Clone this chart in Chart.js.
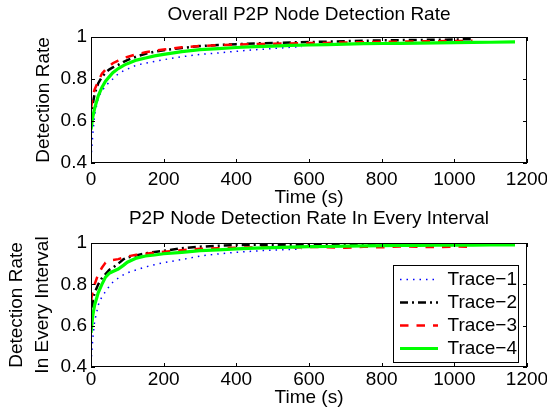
<!DOCTYPE html>
<html>
<head>
<meta charset="utf-8">
<script src="https://cdn.jsdelivr.net/npm/chart.js@4.4.1/dist/chart.umd.min.js"></script>
<style>
  html, body { margin: 0; padding: 0; background: #fff; }
  #wrap { position: relative; width: 547px; height: 413px; overflow: hidden; }
  canvas { position: absolute; left: 0; }
  #topChart { top: 0; }
  #bottomChart { top: 200px; }
</style>
</head>
<body>
<div id="wrap">
  <canvas id="topChart" width="547" height="213"></canvas>
  <canvas id="bottomChart" width="547" height="213"></canvas>
</div>
<script>
// sample times (s) - trace 1 stops early, trace 4 runs longest
var timesShort = [0, 5, 10, 20, 30, 40, 50, 60, 75, 90, 100, 125, 150, 175, 200, 250, 300, 350, 400, 450, 500, 550, 580];
var timesMid = [0, 5, 10, 20, 30, 40, 50, 60, 75, 90, 100, 125, 150, 175, 200, 250, 300, 350, 400, 450, 500, 550, 600, 650, 700, 750, 800, 850, 900, 950, 1000, 1050];
var timesLong = [0, 5, 10, 20, 30, 40, 50, 60, 75, 90, 100, 125, 150, 175, 200, 250, 300, 350, 400, 450, 500, 550, 600, 650, 700, 750, 800, 850, 900, 950, 1000, 1050, 1100, 1167];

var traceLabels = ['Trace\u22121', 'Trace\u22122', 'Trace\u22123', 'Trace\u22124'];

// overall detection rate
var overall1 = [0.42, 0.54, 0.63, 0.71, 0.745, 0.765, 0.785, 0.80, 0.825, 0.84, 0.847, 0.866, 0.875, 0.884, 0.892, 0.906, 0.917, 0.924, 0.932, 0.939, 0.945, 0.951, 0.954];
var overall2 = [0.60, 0.68, 0.73, 0.78, 0.81, 0.83, 0.845, 0.855, 0.867, 0.882, 0.89, 0.907, 0.92, 0.93, 0.937, 0.948, 0.957, 0.962, 0.966, 0.969, 0.972, 0.974, 0.976, 0.978, 0.98, 0.982, 0.984, 0.985, 0.986, 0.987, 0.988, 0.99];
var overall3 = [0.66, 0.72, 0.75, 0.79, 0.825, 0.845, 0.86, 0.875, 0.888, 0.90, 0.905, 0.918, 0.927, 0.935, 0.94, 0.951, 0.957, 0.961, 0.964, 0.966, 0.968, 0.969, 0.971, 0.972, 0.974, 0.975, 0.977, 0.978, 0.979, 0.98, 0.981, 0.982];
var overall4 = [0.56, 0.62, 0.66, 0.72, 0.76, 0.79, 0.81, 0.83, 0.85, 0.865, 0.873, 0.89, 0.90, 0.91, 0.917, 0.93, 0.94, 0.945, 0.95, 0.954, 0.957, 0.96, 0.962, 0.964, 0.966, 0.968, 0.969, 0.97, 0.971, 0.972, 0.973, 0.974, 0.975, 0.977];

// detection rate in every interval
var interval1 = [0.42, 0.54, 0.62, 0.70, 0.74, 0.765, 0.79, 0.81, 0.83, 0.847, 0.856, 0.87, 0.884, 0.895, 0.905, 0.92, 0.937, 0.947, 0.955, 0.961, 0.966, 0.969, 0.97];
var interval2 = [0.60, 0.72, 0.76, 0.80, 0.83, 0.85, 0.87, 0.88, 0.90, 0.922, 0.93, 0.94, 0.95, 0.957, 0.962, 0.975, 0.982, 0.987, 0.99, 0.991, 0.992, 0.991, 0.993, 0.992, 0.994, 0.993, 0.995, 0.994, 0.995, 0.996, 0.995, 0.996];
var interval3 = [0.72, 0.77, 0.80, 0.85, 0.88, 0.905, 0.915, 0.918, 0.922, 0.93, 0.935, 0.943, 0.948, 0.953, 0.958, 0.965, 0.972, 0.975, 0.977, 0.979, 0.98, 0.978, 0.981, 0.98, 0.977, 0.982, 0.979, 0.983, 0.982, 0.98, 0.983, 0.982];
var interval4 = [0.565, 0.65, 0.70, 0.76, 0.80, 0.835, 0.853, 0.862, 0.874, 0.893, 0.907, 0.927, 0.937, 0.942, 0.948, 0.955, 0.963, 0.967, 0.972, 0.975, 0.978, 0.98, 0.982, 0.983, 0.985, 0.986, 0.987, 0.988, 0.988, 0.989, 0.99, 0.99, 0.991, 0.991];

var xTicks = [0, 200, 400, 600, 800, 1000, 1200];
var yTicks = [0.4, 0.6, 0.8, 1];

Chart.defaults.font.family = "'Liberation Sans', Arial, sans-serif";
Chart.defaults.font.size = 19;
Chart.defaults.color = '#000';

function points(xs, ys) {
    return xs.map(function (x, i) { return {x: x, y: ys[i]}; });
}

// matlab style box with inward ticks on every side
var boxTicks = {
    id: 'boxTicks',
    afterDatasetsDraw: function (chart) {
        var ctx = chart.ctx, a = chart.chartArea;
        var xs = chart.scales.x, ys = chart.scales.y;
        ctx.save();
        ctx.strokeStyle = '#000';
        ctx.lineWidth = 1;
        ctx.beginPath();
        xs.ticks.forEach(function (t) {
            var px = Math.round(xs.getPixelForValue(t.value)) + 0.5;
            ctx.moveTo(px, a.bottom); ctx.lineTo(px, a.bottom - 4);
            ctx.moveTo(px, a.top); ctx.lineTo(px, a.top + 4);
        });
        ys.ticks.forEach(function (t) {
            var py = Math.round(ys.getPixelForValue(t.value)) + 0.5;
            ctx.moveTo(a.left, py); ctx.lineTo(a.left + 4, py);
            ctx.moveTo(a.right, py); ctx.lineTo(a.right - 4, py);
        });
        ctx.stroke();
        ctx.strokeRect(Math.round(a.left) + 0.5, Math.round(a.top) + 0.5,
            Math.round(a.width) - 1, Math.round(a.height) - 1);
        ctx.restore();
    }
};

// put the legend in the upper right of the plot, with a frame round it
var legendSpot = {
    id: 'legendSpot',
    afterLayout: function (chart) {
        var lg = chart.legend, a = chart.chartArea;
        if (!lg || !lg.options.display) return;
        lg.left = a.right - 131;
        lg.top = a.top + 23;
        lg.right = lg.left + lg.width;
        lg.bottom = lg.top + a.height;
    },
    afterDraw: function (chart) {
        var lg = chart.legend;
        if (!lg || !lg.options.display) return;
        var ctx = chart.ctx;
        ctx.save();
        ctx.strokeStyle = '#000';
        ctx.lineWidth = 1;
        ctx.strokeRect(Math.round(lg.left - 3) + 0.5, Math.round(lg.top - 1.5) + 0.5, 125, 97);
        ctx.restore();
    }
};

// legend entries with the dataset's own dash and width
function lineLabels(chart) {
    var items = Chart.defaults.plugins.legend.labels.generateLabels(chart);
    items.forEach(function (it) {
        var ds = chart.data.datasets[it.datasetIndex];
        it.lineDash = ds.borderDash || [];
        it.lineWidth = ds.borderWidth;
        it.strokeStyle = ds.borderColor;
        it.fillStyle = ds.borderColor;
    });
    return items;
}

function makeChart(id, cfg) {
    var datasets = [
        {label: traceLabels[0], data: points(timesShort, cfg.series[0]), borderColor: '#0000ff',
            borderWidth: 1.5, borderDash: [1.5, 5], order: 4},
        {label: traceLabels[1], data: points(timesMid, cfg.series[1]), borderColor: '#000000',
            borderWidth: 2.5, borderDash: [8, 4, 2, 4], order: 3},
        {label: traceLabels[2], data: points(timesMid, cfg.series[2]), borderColor: '#ff0000',
            borderWidth: 2.5, borderDash: [8.5, 8], order: 2},
        {label: traceLabels[3], data: points(timesLong, cfg.series[3]), borderColor: '#00ff00',
            borderWidth: 3.2, order: 1}
    ];
    datasets.forEach(function (d) {
        d.pointRadius = 0;
        d.tension = 0;
        d.fill = false;
        d.backgroundColor = d.borderColor;
    });

    return new Chart(document.getElementById(id).getContext('2d'), {
        type: 'line',
        data: {datasets: datasets},
        options: {
            responsive: false,
            animation: false,
            devicePixelRatio: 1,
            layout: {padding: {left: 0, right: 20, top: 0, bottom: 0}},
            plugins: {
                title: {
                    display: true,
                    fullSize: false,
                    text: cfg.title,
                    font: {size: 19, weight: 'normal'},
                    color: '#000',
                    padding: cfg.titlePad
                },
                legend: {
                    display: cfg.legend,
                    position: 'chartArea',
                    align: 'start',
                    labels: {
                        usePointStyle: true,
                        pointStyle: 'line',
                        pointStyleWidth: 38,
                        padding: 4,
                        color: '#000',
                        font: {size: 19},
                        generateLabels: lineLabels,
                        sort: function (a, b) { return a.datasetIndex - b.datasetIndex; }
                    }
                },
                tooltip: {enabled: false}
            },
            scales: {
                x: {
                    type: 'linear',
                    min: 0,
                    max: 1200,
                    afterBuildTicks: function (s) { s.ticks = xTicks.map(function (v) { return {value: v}; }); },
                    afterFit: function (s) { s.height = cfg.xHeight; s.paddingLeft = 0; s.paddingRight = 0; },
                    grid: {display: false, drawTicks: false},
                    border: {display: false},
                    ticks: {autoSkip: false, maxRotation: 0, padding: cfg.xTickPad, color: '#000',
                        callback: function (v) { return String(v); }},
                    title: {display: true, text: 'Time (s)', color: '#000', padding: {top: 0, bottom: 4}}
                },
                y: {
                    type: 'linear',
                    min: 0.4,
                    max: 1,
                    afterBuildTicks: function (s) { s.ticks = yTicks.map(function (v) { return {value: v}; }); },
                    afterFit: function (s) { s.width = 91; s.paddingTop = 0; s.paddingBottom = 0; },
                    grid: {display: false, drawTicks: false},
                    border: {display: false},
                    ticks: {padding: 4, color: '#000', callback: function (v) { return String(v); }},
                    title: {
                        display: true,
                        text: cfg.yTitle,
                        color: '#000',
                        font: {size: 19, lineHeight: cfg.yLineHeight},
                        padding: {top: cfg.yTitlePad, bottom: 0}
                    }
                }
            }
        },
        plugins: [boxTicks, legendSpot]
    });
}

makeChart('topChart', {
    title: 'Overall P2P Node Detection Rate',
    titlePad: {top: 3.1, bottom: 11.1},
    series: [overall1, overall2, overall3, overall4],
    legend: false,
    xHeight: 50,
    xTickPad: 5,
    yTitle: 'Detection Rate',
    yLineHeight: 1.2,
    yTitlePad: 32.6
});

makeChart('bottomChart', {
    title: 'P2P Node Detection Rate In Every Interval',
    titlePad: {top: 7.6, bottom: 12.6},
    series: [interval1, interval2, interval3, interval4],
    legend: true,
    xHeight: 46,
    xTickPad: 1,
    yTitle: ['Detection Rate', 'In Every Interval'],
    yLineHeight: 26 / 19,
    yTitlePad: 3.5
});
</script>
</body>
</html>
